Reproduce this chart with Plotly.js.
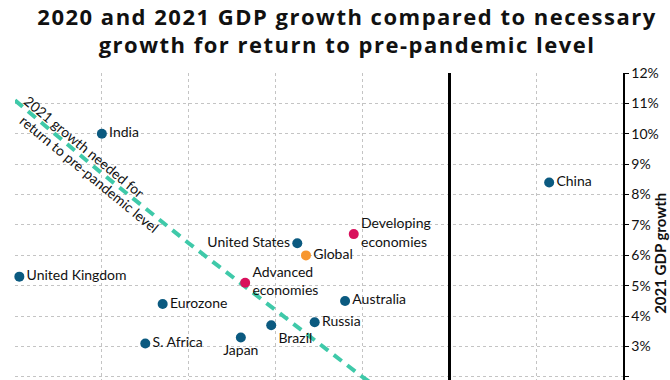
<!DOCTYPE html>
<html>
<head>
<meta charset="utf-8">
<script src="https://cdn.plot.ly/plotly-3.0.1.min.js"></script>
<style>
html,body{margin:0;padding:0;background:#fff;overflow:hidden;}
#chart{width:670px;height:380px;}
#chart .gtitle{letter-spacing:1.5px;}
</style>
</head>
<body>
<div id="chart"></div>
<script>
// Data
const names = ['India','United Kingdom','United States','Global','Advanced<br>economies','Developing<br>economies','Eurozone','Australia','Russia','Brazil','Japan','S. Africa','China'];
const growth2020 = [-8.0,-9.9,-3.5,-3.3,-4.7,-2.2,-6.6,-2.4,-3.1,-4.1,-4.8,-7.0,2.3];
const growth2021 = [10.0,5.3,6.4,6.0,5.1,6.7,4.4,4.5,3.8,3.7,3.3,3.1,8.4];
const groups = ['country','country','country','global','aggregate','aggregate','country','country','country','country','country','country','country'];
const labelSide = ['middle right','middle right','middle left','middle right','middle right','middle right','middle right','middle right','middle right','bottom right','bottom center','middle right','middle right'];

const neededX = [-10, -8, -6, -4, -2, 0];
const neededY = [11.1, 8.7, 6.4, 4.2, 2.0, 0];
const neededLabel = ['2021 growth needed for', 'return to pre-pandemic level'];

const colorMap = {country:'#0b5a80', aggregate:'#d9105c', global:'#f7962e'};
const font = 'Lato, "Open Sans", sans-serif';
const titleFont = '"Open Sans", Lato, sans-serif';

const traces = [
  {
    x: neededX, y: neededY, mode: 'lines', type: 'scatter',
    line: {color:'#3fc9a9', width:4, dash:'10px,7px'},
    hoverinfo: 'skip', showlegend:false
  },
  {
    x: growth2020, y: growth2021, text: names, type:'scatter',
    mode: 'markers+text',
    textposition: labelSide,
    marker: {size:10, color: groups.map(g => colorMap[g])},
    textfont: {family: font, size: 14, color:'#111'},
    cliponaxis: false,
    showlegend:false
  }
];

const layout = {
  width: 670, height: 380,
  margin: {l:15, r:47, t:73, b:0},
  paper_bgcolor:'#fff', plot_bgcolor:'#fff',
  font: {family: font, color:'#111'},
  title: {
    text: '<b>2020 and 2021 GDP growth compared to necessary<br>growth for return to pre-pandemic level</b>',
    font: {family: titleFont, size: 22, color:'#111'},
    x: 0.518, xref:'container', xanchor:'center',
    y: 0.935, yref:'container', yanchor:'top'
  },
  xaxis: {
    range:[-10, 4], dtick:2, showticklabels:false, ticks:'',
    showgrid:true, gridcolor:'#c4c4c4', griddash:'dot', gridwidth:1,
    zeroline:true, zerolinecolor:'#000', zerolinewidth:3,
    showline:false, fixedrange:true
  },
  yaxis: {
    side:'right', range:[1.9, 12], dtick:1, ticksuffix:'%',
    showgrid:true, gridcolor:'#c4c4c4', griddash:'dot', gridwidth:1,
    zeroline:false, showline:true, linecolor:'#000', linewidth:1.5,
    ticks:'outside', ticklen:4, tickcolor:'#000',
    tickfont:{family: font, size:14, color:'#111'},
    fixedrange:true
  },
  annotations: [
    {
      x:-8.41, y:9.58, xref:'x', yref:'y', showarrow:false,
      text: neededLabel[0],
      textangle:39.5, xanchor:'center', yanchor:'middle',
      font:{family: font, size:14, color:'#111'}
    },
    {
      x:-8.30, y:8.68, xref:'x', yref:'y', showarrow:false,
      text: neededLabel[1],
      textangle:39.5, xanchor:'center', yanchor:'middle',
      font:{family: font, size:14, color:'#111'}
    },
    {
      x:1, xref:'paper', xanchor:'center', xshift:37,
      y:6.05, yref:'y', yanchor:'middle', showarrow:false,
      text:'<b>2021 GDP growth</b>', textangle:-90,
      font:{family: font, size:15, color:'#111'}
    }
  ]
};

Plotly.newPlot('chart', traces, layout, {displayModeBar:false, staticPlot:true});
</script>
</body>
</html>
